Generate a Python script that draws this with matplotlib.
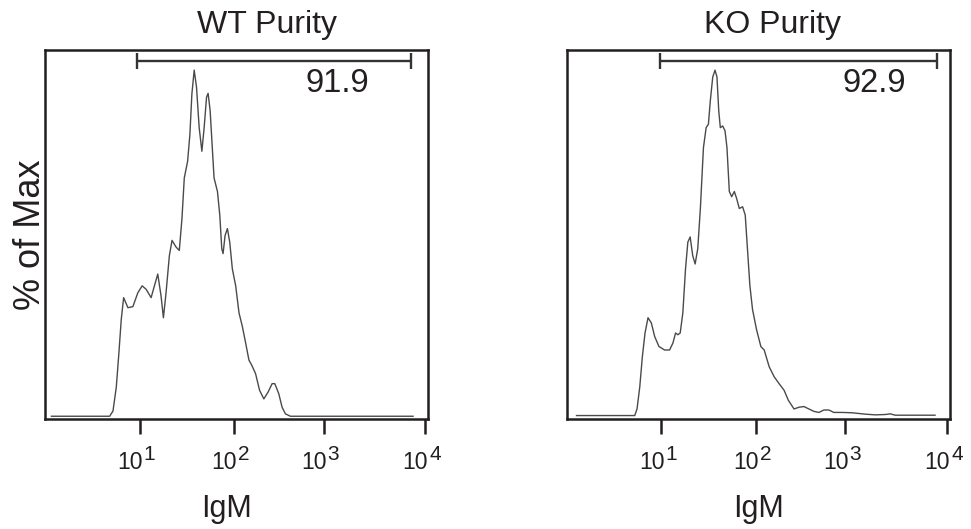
import numpy as np
import matplotlib
matplotlib.use("Agg")
import matplotlib.pyplot as plt
from matplotlib.transforms import blended_transform_factory, ScaledTranslation

plt.rcParams['font.family'] = ['Liberation Sans', 'DejaVu Sans']

# WT histogram (IgM intensity, % of max)
wt_igm = [1.17, 4.83, 5.24, 5.68, 6.05, 6.41, 6.79, 7.54, 8.51, 9.60, 10.67, 11.75,
          13.27, 14.38, 15.60, 16.90, 17.90, 19.09, 20.70, 22.08, 24.33, 26.37, 28.13,
          29.77, 32.28, 34.14, 35.82, 37.9, 40.1, 42.8, 45.7, 48.3, 51.2, 53.2, 55.9,
          59.2, 61.5, 66.8, 70.7, 74.2, 76.6, 80.4, 85.1, 90.1, 96.0, 104.4, 113.7,
          123.9, 134.9, 146.8, 157.2, 174.0, 192.9, 215.4, 240.6, 266.6, 285.5, 316.2,
          344.5, 375.1, 426.6, 7620]
wt_pct = [0.2, 0.2, 1.7, 8.6, 18.4, 28.1, 34.4, 31.5, 31.8, 35.8, 37.8, 36.8,
          34.4, 37.8, 41.2, 34.9, 28.6, 35.8, 46.5, 50.9, 49.0, 48.0, 57.2,
          68.9, 73.7, 81.5, 93.1, 100.0, 95.1, 83.4, 76.6, 83.4, 92.2, 93.3, 88.3,
          76.6, 68.9, 65.0, 58.2, 48.5, 47.1, 52.3, 54.3, 50.4, 42.7, 37.8, 30.0,
          26.1, 21.3, 16.4, 15.0, 12.5, 7.7, 5.2, 7.2, 9.6, 9.6, 6.7,
          2.8, 0.9, 0.2, 0.2]

# KO histogram
ko_igm = [1.27, 5.24, 5.54, 5.92, 6.31, 6.73, 7.24, 7.85, 8.51, 9.45, 10.84, 12.24,
          13.27, 14.16, 14.97, 15.85, 16.90, 18.04, 19.09, 20.2, 21.5, 22.8, 24.3,
          25.9, 27.9, 29.8, 31.5, 33.0, 35.0, 37.0, 38.8, 40.5, 42.1, 44.6, 47.2,
          49.5, 52.4, 55.5, 59.2, 62.6, 66.8, 72.4, 77.2, 81.7, 86.5, 92.2, 101.7,
          113.7, 123.9, 140.7, 159.9, 181.7, 206.5, 230.6, 266.6, 303, 344, 391,
          445, 506, 575, 653, 742, 918, 1163, 1570, 1968, 2466, 2761, 3092, 7620]
ko_pct = [0.4, 0.4, 2.3, 8.6, 17.4, 24.2, 28.6, 27.1, 23.2, 20.3, 19.3, 19.3,
          21.3, 24.2, 23.7, 24.2, 30.0, 42.7, 50.4, 51.9, 46.5, 44.1, 48.5,
          60.1, 77.6, 83.4, 84.4, 91.2, 98.0, 100.0, 98.0, 88.3, 83.4, 83.9, 82.5,
          77.6, 65.0, 63.5, 65.0, 63.0, 60.1, 60.6, 58.2, 48.0, 37.8, 31.0, 25.2,
          20.3, 19.3, 14.5, 11.6, 9.6, 7.7, 4.8, 2.3, 2.8, 3.0, 2.3,
          1.6, 1.3, 2.0, 2.0, 1.3, 1.3, 1.2, 0.8, 0.6, 0.7, 0.9, 0.5, 0.5]

titles = ["WT Purity", "KO Purity"]
gate_values = ["91.9", "92.9"]
gate_ranges = [(9.3, 7290), (9.6, 7940)]
tick_values = [10, 100, 1000, 10000]
tick_exps = ["1", "2", "3", "4"]

# cytometry axis: decades are not evenly spaced
LOG_DEC = [-1, 0, 1, 2, 3, 4, 5]
U_DEC = [-1, 0, 1, 2, 2.947, 4.021, 5.095]


def fwd(x):
    x = np.clip(np.asarray(x, dtype=float), 1e-3, None)
    return np.interp(np.log10(x), LOG_DEC, U_DEC)


def inv(u):
    return 10 ** np.interp(np.asarray(u, dtype=float), U_DEC, LOG_DEC)


fig = plt.figure(figsize=(9.71, 5.29), dpi=100)
rects = [[45 / 971, 0.2079, 383 / 971, 0.6976],
         [566.7 / 971, 0.2079, 383.3 / 971, 0.6976]]
text_x = [0.762, 0.802]
title_x = [0.58, 0.536]
xlabel_x = [0.475, 0.5]
data = [(wt_igm, wt_pct), (ko_igm, ko_pct)]

line_col = "#4a4a4a"
dark = "#231f20"

for i in range(2):
    ax = fig.add_axes(rects[i])
    ax.set_xscale('function', functions=(fwd, inv))
    x, y = data[i]
    ax.plot(x, y, color=line_col, lw=1.0)

    # gate bar
    g0, g1 = gate_ranges[i]
    ax.plot([g0, g1], [102.6, 102.6], color="#333333", lw=1.7, solid_capstyle='butt')
    ax.vlines([g0, g1], 100.4, 105.0, color="#333333", lw=1.7)
    ax.text(text_x[i], 0.908, gate_values[i], transform=ax.transAxes,
            ha='center', va='center', fontsize=23.5, color=dark)

    ax.set_xlim(1, 10700)
    ax.set_ylim(-0.6, 105.8)
    ax.set_xticks(tick_values)
    ax.set_xticklabels([])
    ax.xaxis.set_minor_locator(matplotlib.ticker.NullLocator())
    ax.set_yticks([])
    ax.tick_params(axis='x', direction='out', length=10.5, width=1.8, color=dark)
    for s in ax.spines.values():
        s.set_linewidth(1.8)
        s.set_color(dark)

    # tick labels as 10 with a large raised exponent
    trans = blended_transform_factory(ax.transData, ax.transAxes)
    for v, e in zip(tick_values, tick_exps):
        ax.text(v, -0.1355, "10", transform=trans + ScaledTranslation(0.03, 0, fig.dpi_scale_trans),
                ha='right', va='baseline', fontsize=16.5, color=dark)
        ax.text(v, -0.111, e, transform=trans + ScaledTranslation(0.04, 0, fig.dpi_scale_trans),
                ha='left', va='baseline', fontsize=15, color=dark)

    ax.set_title(titles[i], fontsize=23, pad=12, color=dark, x=title_x[i])
    ax.set_xlabel("IgM", fontsize=22, labelpad=40, color=dark)
    ax.xaxis.label.set_x(xlabel_x[i])
    if i == 0:
        ax.set_ylabel("% of Max", fontsize=26, labelpad=-2, color=dark)

fig.savefig("out.png", dpi=100)
